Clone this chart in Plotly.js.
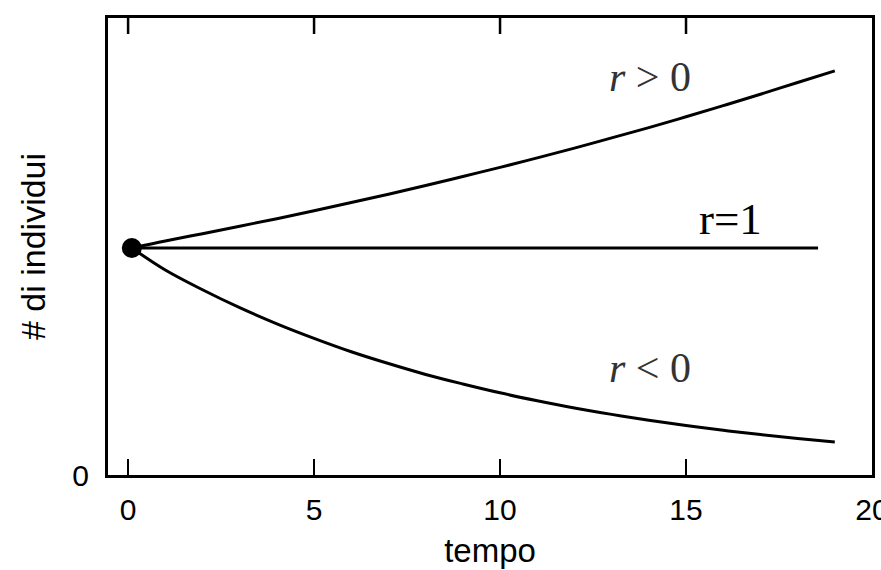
<!DOCTYPE html>
<html>
<head>
<meta charset="utf-8">
<script src="https://cdn.plot.ly/plotly-3.0.1.min.js"></script>
<style>
    html, body { margin:0; padding:0; background:#ffffff; }
    #crescita { width:881px; height:570px; }
</style>
</head>
<body>

<div id="crescita"></div>

<script>

/* ==========================================
   DATA
========================================== */

const tempo = [0.1, 1, 2, 3, 4, 5, 6, 7, 8, 9, 10, 11, 12, 13, 14, 15, 16, 17, 18, 19];

const individuiCrescita = [100, 103.1, 106.3, 109.6, 112.9, 116.4, 120.0, 123.7, 127.5, 131.5,
                           135.5, 139.7, 144.0, 148.5, 153.0, 157.8, 162.7, 167.7, 172.9, 178.0];

const individuiDeclino = [100, 90.3, 81.6, 73.7, 66.6, 60.2, 54.3, 49.1, 44.3, 40.1,
                          36.2, 32.7, 29.5, 26.7, 24.1, 21.8, 19.7, 17.8, 16.1, 14.5];

const tempoCostante = [0.1, 18.55];

const individuiCostante = [100, 100];

const xTicks = [0, 5, 10, 15, 20];

const yTicks = [0];

const xRange = [-0.54, 20.0];

const yRange = [0, 201.3];


/* ==========================================
   CHART
========================================== */

function drawCrescita(){

    const linea = {

        color:"#000000",

        width:3

    };

    // ticks on the top side of the frame (drawn in y data units)

    const tacca = 16 * (yRange[1] - yRange[0]) / 457;

    const tacchetteSopra = xTicks.slice(0, 4).map(v=>{

        return{

            type:"line",

            xref:"x",

            yref:"y",

            x0:v,

            x1:v,

            y0:yRange[1],

            y1:yRange[1] - tacca,

            layer:"above",

            line:{

                color:"#000000",

                width:2.5

            }

        };

    });

    Plotly.newPlot(

        "crescita",

        [

            {

                x:tempo,

                y:individuiCrescita,

                mode:"lines",

                line:Object.assign({shape:"spline"}, linea),

                name:"r > 0"

            },

            {

                x:tempo,

                y:individuiDeclino,

                mode:"lines",

                line:Object.assign({shape:"spline"}, linea),

                name:"r < 0"

            },

            {

                x:tempoCostante,

                y:individuiCostante,

                mode:"lines",

                line:linea,

                name:"r=1"

            },

            {

                x:[tempo[0]],

                y:[individuiCrescita[0]],

                mode:"markers",

                marker:{

                    color:"#000000",

                    size:20

                },

                name:"N0"

            }

        ],

        {

            width:881,

            height:570,

            showlegend:false,

            paper_bgcolor:"#ffffff",

            plot_bgcolor:"#ffffff",

            font:{

                family:"'Liberation Sans', Arial, sans-serif",

                color:"#000000"

            },

            margin:{

                l:108,

                r:9,

                t:18,

                b:95

            },

            xaxis:{

                range:xRange,

                tickvals:xTicks,

                ticktext:xTicks.map(String),

                ticks:"inside",

                ticklen:16,

                tickwidth:2.5,

                tickcolor:"#000000",

                ticklabelstandoff:6,

                ticklabeloverflow:"allow",

                tickfont:{ size:30 },

                showgrid:false,

                zeroline:false,

                showline:true,

                linewidth:3,

                linecolor:"#000000",

                mirror:true,

                title:{

                    text:"tempo",

                    font:{ size:33 },

                    standoff:14

                }

            },

            yaxis:{

                range:yRange,

                tickvals:yTicks,

                ticktext:yTicks.map(String),

                ticks:"",

                ticklabelstandoff:10,

                tickfont:{ size:30 },

                showgrid:false,

                zeroline:false,

                showline:true,

                linewidth:3,

                linecolor:"#000000",

                mirror:true,

                title:{

                    text:"# di individui",

                    font:{ size:34 },

                    standoff:17

                }

            },

            shapes:tacchetteSopra,

            annotations:[

                {

                    x:14.03,

                    y:175.3,

                    text:"<i>r</i> > 0",

                    showarrow:false,

                    font:{

                        family:"'Liberation Serif', 'Times New Roman', serif",

                        size:42,

                        color:"#333333"

                    }

                },

                {

                    x:14.03,

                    y:47.1,

                    text:"<i>r</i> < 0",

                    showarrow:false,

                    font:{

                        family:"'Liberation Serif', 'Times New Roman', serif",

                        size:42,

                        color:"#333333"

                    }

                },

                {

                    x:16.2,

                    y:112.8,

                    text:"r=1",

                    showarrow:false,

                    font:{

                        family:"'Liberation Serif', 'Times New Roman', serif",

                        size:45,

                        color:"#000000"

                    }

                }

            ]

        },

        {

            displayModeBar:false,

            staticPlot:true

        }

    );

}

drawCrescita();

</script>

</body>
</html>
